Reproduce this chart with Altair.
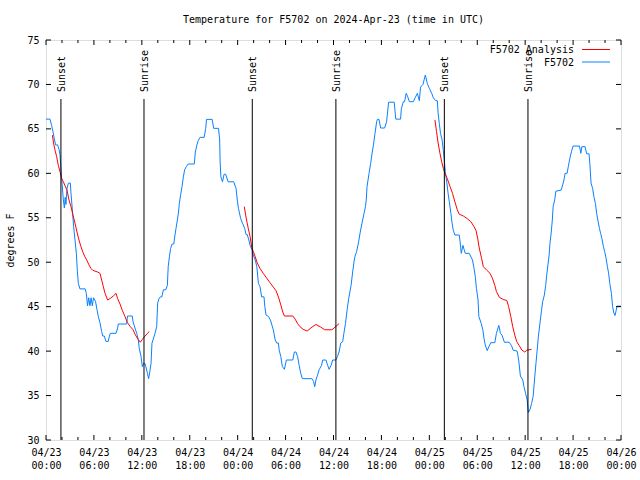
import altair as alt
import pandas as pd

# ---- data (hours since 2024-04-23 00:00 UTC, degrees F) ----
obs_hours = [0.0, 0.5, 0.7, 0.87, 1.04, 1.2, 1.45, 1.63, 1.75, 1.88, 2.17, 2.3, 2.4, 2.5, 2.63, 2.8, 3.05, 3.13,
             3.3, 3.46, 3.63, 3.8, 3.92, 4.05, 4.25, 4.9, 5.05, 5.2, 5.35, 5.5, 5.65, 5.8, 5.95, 6.2, 6.4, 6.55,
             6.76, 6.97, 7.1, 7.3, 7.5, 7.8, 7.9, 8.05, 8.77, 8.97, 9.05, 10.1, 10.2, 10.8, 10.9, 11.14, 11.36,
             11.56, 11.68, 11.9, 12.06, 12.2, 12.4, 12.5, 12.7, 12.85, 13.0, 13.15, 13.27, 13.4, 13.65, 13.86,
             13.98, 14.15, 14.3, 14.5, 14.7, 15.0, 15.2, 15.3, 15.45, 15.6, 15.8, 16.0, 16.15, 16.28, 16.45,
             16.57, 16.7, 16.86, 17.03, 17.2, 17.36, 17.6, 17.8, 18.57, 18.7, 18.9, 19.07, 19.3, 19.8, 20.0,
             20.1, 20.8, 21.0, 21.6, 21.75, 21.8, 21.9, 22.1, 22.3, 22.5, 22.8, 23.5, 23.8, 23.95, 24.1, 24.38,
             24.6, 24.88, 25.05, 25.2, 25.4, 25.55, 25.8, 25.96, 26.2, 26.4, 26.6, 26.8, 27.0, 27.3, 27.4,
             27.55, 27.85, 28.1, 28.46, 28.7, 28.9, 29.1, 29.2, 29.4, 29.6, 29.85, 30.1, 30.9, 31.1, 31.3,
             31.5, 31.7, 31.9, 32.1, 33.3, 33.5, 33.65, 33.8, 34.0, 34.2, 34.5, 34.65, 35.05, 35.27, 35.45,
             35.7, 35.9, 36.3, 36.5, 36.7, 36.9, 37.15, 37.3, 37.5, 37.7, 37.9, 38.2, 38.4, 38.6, 38.7, 38.9,
             39.15, 39.35, 39.57, 39.8, 40.0, 40.1, 40.2, 40.45, 40.65, 40.8, 41.0, 41.2, 41.4, 41.5, 41.7,
             41.9, 42.4, 42.65, 42.9, 43.6, 43.8, 44.4, 44.5, 44.75, 44.9, 45.1, 45.3, 45.5, 46.0, 46.25, 46.5,
             46.75, 46.9, 47.2, 47.5, 47.75, 48.0, 48.3, 48.5, 48.8, 49.0, 49.1, 49.25, 49.4, 49.6, 49.75,
             49.87, 50.0, 50.2, 50.35, 50.5, 50.7, 50.85, 51.0, 51.2, 51.75, 51.85, 52.0, 52.2, 52.35, 52.5,
             53.0, 53.4, 53.6, 53.75, 53.9, 54.1, 54.2, 54.5, 54.7, 54.85, 55.0, 55.25, 55.45, 55.7, 56.2,
             56.4, 56.7, 56.9, 57.1, 57.4, 58.0, 58.3, 58.5, 59.0, 59.2, 59.4, 59.7, 59.85, 60.05, 60.25,
             60.4, 60.6, 60.8, 61.0, 61.2, 61.35, 61.5, 61.65, 61.78, 61.9, 62.05, 62.2, 62.4, 62.57, 62.7,
             62.85, 63.0, 63.1, 63.27, 63.4, 63.5, 63.7, 63.85, 64.5, 64.7, 64.85, 65.0, 65.25, 65.4, 65.6,
             65.8, 66.0, 66.8, 66.97, 67.1, 67.5, 67.7, 68.0, 68.1, 68.25, 68.45, 68.6, 68.8, 68.95, 69.1,
             69.3, 69.45, 69.6, 69.8, 69.95, 70.1, 70.3, 70.45, 70.6, 70.8, 70.95, 71.1, 71.25, 71.4, 71.5,
             72.0]
obs_temps = [66.1, 66.1, 65.4, 64.7, 63.9, 63.2, 63.2, 62.7, 62.1, 60.4, 57.0, 56.1, 57.3, 56.5, 58.3, 58.9, 58.9,
             57.75, 55.9, 54.0, 52.5, 51.0, 49.1, 47.6, 47.0, 47.0, 46.5, 45.1, 46.0, 45.1, 46.0, 45.1, 46.0,
             45.6, 44.6, 43.9, 43.2, 42.2, 41.7, 41.7, 41.1, 41.1, 41.55, 42.0, 42.0, 42.6, 43.05, 43.05, 43.95,
             43.95, 43.3, 42.6, 42.0, 41.25, 40.3, 39.4, 38.25, 38.6, 38.6, 38.25, 37.5, 36.9, 37.7, 38.6,
             40.9, 41.25, 42.0, 42.75, 45.4, 45.9, 46.1, 46.1, 46.9, 46.9, 47.4, 49.5, 50.6, 51.55, 52.05,
             52.05, 53.06, 53.8, 54.75, 55.5, 56.6, 57.6, 58.5, 59.6, 60.4, 60.8, 61.05, 61.05, 62.4, 63.2,
             63.7, 64.05, 64.05, 65.06, 66.07, 66.07, 65.06, 65.06, 63.75, 61.3, 59.6, 59.05, 59.9, 59.9,
             59.05, 59.05, 58.3, 57.0, 56.06, 54.9, 54.4, 53.8, 53.1, 53.1, 52.5, 51.9, 51.4, 50.8, 50.25,
             49.5, 47.6, 47.25, 46.1, 46.1, 45.0, 44.06, 43.9, 43.5, 42.4, 41.25, 40.9, 40.9, 40.1, 39.4,
             38.25, 37.95, 39.0, 39.0, 39.9, 39.9, 39.4, 38.4, 37.5, 36.9, 36.9, 36.6, 36.0, 36.75, 37.3,
             37.9, 38.4, 39.0, 39.0, 38.4, 37.95, 38.4, 39.0, 39.0, 39.4, 39.9, 40.9, 41.06, 42.0, 43.1, 44.6,
             45.9, 47.4, 48.9, 50.25, 50.7, 51.2, 52.3, 53.4, 54.4, 55.4, 56.25, 57.0, 58.5, 60.0, 61.1, 62.06,
             63.2, 64.5, 65.8, 66.07, 66.07, 65.1, 65.1, 65.8, 68.0, 68.0, 66.1, 66.1, 67.3, 68.06, 68.06,
             69.0, 68.6, 68.06, 68.06, 68.55, 69.0, 68.17, 69.7, 70.0, 71.06, 70.1, 69.56, 69.0, 68.5, 68.17,
             68.17, 66.75, 65.6, 64.5, 63.75, 62.6, 61.5, 60.2, 58.9, 57.75, 56.8, 55.5, 54.4, 53.6, 53.06,
             53.06, 52.3, 51.0, 51.9, 51.45, 51.0, 51.0, 50.25, 49.3, 48.4, 47.06, 45.75, 43.9, 43.1, 42.4,
             41.4, 40.7, 40.05, 40.5, 40.95, 40.95, 42.0, 42.9, 42.0, 41.8, 41.0, 41.0, 40.6, 40.1, 40.0,
             38.9, 37.2, 36.75, 36.0, 35.25, 34.5, 33.1, 33.4, 34.1, 34.9, 37.1, 38.6, 40.1, 41.6, 42.6, 43.5,
             44.6, 45.6, 46.3, 47.4, 48.56, 49.7, 50.8, 52.1, 53.4, 54.75, 56.25, 57.0, 58.0, 58.1, 58.7,
             59.25, 60.0, 60.0, 60.75, 61.7, 62.45, 63.07, 63.07, 62.25, 63.0, 63.0, 62.2, 62.2, 61.1, 58.9,
             58.3, 57.4, 56.6, 55.5, 54.75, 53.8, 53.25, 52.7, 51.75, 51.2, 50.6, 49.5, 48.75, 47.6, 46.5,
             45.0, 44.3, 44.0, 44.6, 45.06, 45.06]

ana1_hours = [0.8, 0.95, 1.13, 1.33, 1.54, 1.75, 1.96, 2.17, 2.38, 2.63, 2.88, 3.13, 3.38, 3.63, 3.88, 4.13,
              4.38, 4.63, 4.88, 5.13, 5.38, 5.63, 5.85, 6.13, 6.47, 6.76, 6.97, 7.18, 7.39, 7.72, 8.0, 8.43,
              8.77, 8.97, 9.27, 9.55, 9.89, 10.2, 10.56, 10.9, 11.2, 11.56, 11.8, 12.06, 12.4, 12.73, 12.9]
ana1_temps = [64.3, 63.4, 62.6, 61.9, 60.9, 60.2, 59.4, 59.06, 58.6, 58.1, 57.0, 56.25, 55.3, 54.4, 53.4, 52.5,
              51.75, 51.1, 50.6, 50.2, 49.7, 49.3, 49.1, 49.0, 48.9, 48.75, 48.0, 47.25, 46.5, 45.75, 45.9,
              46.2, 46.5, 45.9, 45.3, 44.6, 43.9, 43.2, 42.75, 42.4, 41.8, 41.3, 41.0, 41.3, 41.7, 42.0, 42.2]
ana2_hours = [24.83, 25.0, 25.17, 25.33, 25.55, 25.76, 25.96, 26.2, 26.46, 26.8, 27.2, 27.6, 28.05, 28.46,
              28.8, 29.1, 29.4, 29.65, 29.85, 30.9, 31.2, 31.5, 31.8, 32.2, 32.7, 33.3, 33.8, 34.4, 34.9,
              35.8, 36.2, 36.7]
ana2_temps = [56.25, 55.3, 54.5, 53.8, 52.9, 51.7, 51.2, 50.6, 49.9, 49.3, 48.75, 48.26, 47.7, 47.2, 46.8,
              46.1, 45.2, 44.4, 43.95, 43.95, 43.6, 43.1, 42.75, 42.45, 42.26, 42.7, 43.0, 42.7, 42.4, 42.4,
              42.7, 43.1]
ana3_hours = [48.7, 48.9, 49.1, 49.33, 49.55, 49.75, 49.96, 50.25, 50.6, 50.9, 51.2, 51.5, 51.75, 52.26,
              52.75, 53.2, 53.6, 53.85, 54.05, 54.25, 54.55, 54.76, 55.2, 55.6, 55.9, 56.2, 56.4, 56.77,
              57.26, 57.7, 57.93, 58.2, 58.44, 58.7, 58.95, 59.27, 59.6, 59.95, 60.2, 60.8]
ana3_temps = [66.0, 64.7, 63.4, 62.25, 61.3, 60.56, 60.0, 59.4, 58.5, 57.75, 56.8, 55.9, 55.4, 55.2, 54.9,
              54.56, 54.0, 53.55, 52.7, 51.6, 50.4, 49.5, 49.1, 48.75, 48.2, 47.4, 46.7, 46.05, 45.8, 45.7,
              45.0, 43.9, 42.75, 41.8, 41.06, 40.6, 40.1, 39.9, 40.1, 40.2]

event_hours = [1.87, 12.27, 25.83, 36.3, 49.88, 60.35]
event_labels = ["Sunset", "Sunrise", "Sunset", "Sunrise", "Sunset", "Sunrise"]

x_major = [0, 6, 12, 18, 24, 30, 36, 42, 48, 54, 60, 66, 72]
x_minor = [2, 4, 8, 10, 14, 16, 20, 22, 26, 28, 32, 34, 38, 40, 44, 46, 50, 52, 56, 58, 62, 64, 68, 70]
x_dates = ["04/23", "04/23", "04/23", "04/23", "04/24", "04/24", "04/24", "04/24",
           "04/25", "04/25", "04/25", "04/25", "04/26"]
x_times = ["00:00", "06:00", "12:00", "18:00", "00:00", "06:00", "12:00", "18:00",
           "00:00", "06:00", "12:00", "18:00", "00:00"]
y_ticks = [30, 35, 40, 45, 50, 55, 60, 65, 70, 75]

series_names = ["F5702 Analysis", "F5702"]
RED = "#ff0000"
BLUE = "#0a80ff"
FONT = "DejaVu Sans Mono"
W, H = 575, 400

# ---- tables ----
obs = pd.DataFrame({"h": obs_hours, "t": obs_temps})
ana = pd.concat([
    pd.DataFrame({"h": ana1_hours, "t": ana1_temps, "seg": 1}),
    pd.DataFrame({"h": ana2_hours, "t": ana2_temps, "seg": 2}),
    pd.DataFrame({"h": ana3_hours, "t": ana3_temps, "seg": 3}),
])
events = pd.DataFrame({"h": event_hours, "label": event_labels})
ticks_major = pd.DataFrame({"h": x_major})
ticks_minor = pd.DataFrame({"h": x_minor})
yt = pd.DataFrame({"t": y_ticks})

label_expr = "[" + ",".join(f"['{d}','{t}']" for d, t in zip(x_dates, x_times)) + "][round(datum.value/6)]"

x_axis = alt.Axis(values=x_major, labelExpr=label_expr, ticks=False, domain=False, grid=False,
                  labelFont=FONT, labelFontSize=10, labelColor="black", labelPadding=7,
                  labelLineHeight=13, labelFlush=False, labelOverlap=False)
y_axis = alt.Axis(values=y_ticks, ticks=False, domain=False, grid=False, labelFont=FONT,
                  labelFontSize=10, labelColor="black", labelPadding=7,
                  title="degrees F", titleFont=FONT, titleFontSize=10, titleFontWeight="normal",
                  titleColor="black", titleX=-36, titleY=H / 2, titleAlign="center",
                  titleBaseline="middle", titleAngle=270)

xs = alt.Scale(domain=[0, 72], nice=False, zero=False)
ys = alt.Scale(domain=[30, 75], nice=False, zero=False)
X = alt.X("h:Q", scale=xs, axis=x_axis, title=None)
Y = alt.Y("t:Q", scale=ys, axis=y_axis)

obs_line = alt.Chart(obs).mark_line(color=BLUE, strokeWidth=1, interpolate="linear").encode(x=X, y=Y)
ana_line = alt.Chart(ana).mark_line(color=RED, strokeWidth=1).encode(x=X, y=Y, detail="seg:N")

ev_rule = alt.Chart(events).mark_rule(color="black", strokeWidth=1).encode(
    x=X, y=alt.value(59), y2=alt.value(H))
ev_text = alt.Chart(events).mark_text(angle=270, align="left", baseline="middle", font=FONT,
                                      fontSize=10, color="black", dy=1).encode(
    x=X, y=alt.value(52), text="label:N")

tb_major = alt.Chart(ticks_major).mark_rule(color="black").encode(x=X, y=alt.value(H), y2=alt.value(H - 5))
tt_major = alt.Chart(ticks_major).mark_rule(color="black").encode(x=X, y=alt.value(0), y2=alt.value(5))
tb_minor = alt.Chart(ticks_minor).mark_rule(color="black").encode(x=X, y=alt.value(H), y2=alt.value(H - 3))
tt_minor = alt.Chart(ticks_minor).mark_rule(color="black").encode(x=X, y=alt.value(0), y2=alt.value(3))
tl = alt.Chart(yt).mark_rule(color="black").encode(y=Y, x=alt.value(0), x2=alt.value(5))
tr = alt.Chart(yt).mark_rule(color="black").encode(y=Y, x=alt.value(W), x2=alt.value(W - 5))

leg_df = pd.DataFrame({"name": series_names})
leg_text1 = alt.Chart(leg_df).transform_filter(alt.datum.name == series_names[0]).mark_text(
    align="right", baseline="middle", font=FONT, fontSize=10, color="black").encode(
    x=alt.value(528), y=alt.value(10), text="name:N")
leg_text2 = alt.Chart(leg_df).transform_filter(alt.datum.name == series_names[1]).mark_text(
    align="right", baseline="middle", font=FONT, fontSize=10, color="black").encode(
    x=alt.value(528), y=alt.value(22.5), text="name:N")
leg_line1 = alt.Chart(leg_df).transform_filter(alt.datum.name == series_names[0]).mark_rule(
    color=RED, strokeWidth=1).encode(x=alt.value(536), x2=alt.value(564), y=alt.value(9.5))
leg_line2 = alt.Chart(leg_df).transform_filter(alt.datum.name == series_names[1]).mark_rule(
    color=BLUE, strokeWidth=1).encode(x=alt.value(536), x2=alt.value(564), y=alt.value(22))

chart = alt.layer(
    obs_line, ana_line, ev_rule, ev_text,
    tb_major, tt_major, tb_minor, tt_minor, tl, tr,
    leg_line1, leg_line2, leg_text1, leg_text2,
).properties(
    width=W, height=H,
    title=alt.TitleParams("Temperature for F5702 on 2024-Apr-23 (time in UTC)", font=FONT, fontSize=10,
                          fontWeight="normal", color="black", anchor="middle", offset=10),
    autosize="none",
    padding={"left": 46, "top": 40, "right": 19, "bottom": 40},
).configure_view(stroke="black", strokeWidth=1).configure(background="white")

chart.save("out.html", embed_options={"renderer": "svg", "actions": False})
